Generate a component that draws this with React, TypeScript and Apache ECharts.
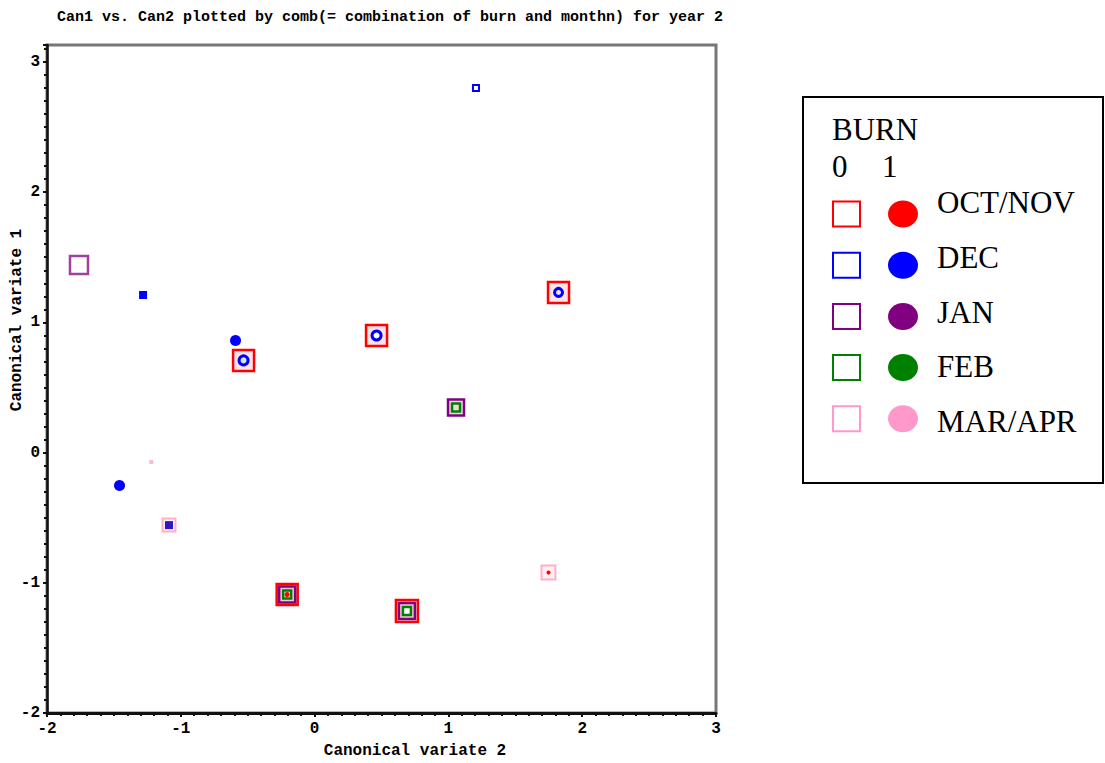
import React, { useEffect, useRef } from "react";
import * as echarts from "echarts";

// ---- texts ----
const titleText = "Can1 vs. Can2 plotted by comb(= combination of burn and monthn) for year 2";
const xTitle = "Canonical variate 2";
const yTitle = "Canonical variate 1";
const legendTitle = "BURN";
const burnLevels = ["0", "1"];
const months = ["OCT/NOV", "DEC", "JAN", "FEB", "MAR/APR"];
const monthColors = ["#FF0000", "#0000FF", "#800080", "#008000", "#FF99CC"];

// ---- axis ranges ----
const xRange = [-2, 3];
const yRange = [-2, 3.13];

// ---- data: [Can2, Can1] ----
const octNov0 = [[-0.531, 0.708], [0.463, 0.899], [1.823, 1.23], [-0.205, -1.09], [0.69, -1.216]];
const jan0 = [[-1.761, 1.441], [1.057, 0.346], [-0.205, -1.09], [0.69, -1.216]];
const marApr0 = [[-1.088, -0.557], [1.748, -0.921], [-1.221, -0.072]];
const feb0 = [[1.057, 0.346], [-0.205, -1.09], [0.69, -1.216]];
const dec0 = [[1.206, 2.8], [-1.282, 1.21], [-1.088, -0.557]];
const dec1 = [[-0.591, 0.861], [-1.458, -0.253], [-0.531, 0.708], [0.463, 0.899], [1.823, 1.23]];
const octNov1 = [[-0.205, -1.09], [1.748, -0.921]];

// ---- marker styling (kept apart from data) ----
const octNov0Sizes = [21, 21, 21, 21, 22];
const jan0Sizes = [18, 16, 16, 16];
const jan0Fills = ["#FFFFFF", "#F0D8E0", "#F2C8D8", "#F2C8D8"];
const marApr0Sizes = [13, 14, 4];
const feb0Sizes = [8, 8, 8];
const feb0Fills = ["#EED8D8", "#E8E0E0", "#FFFFFF"];
const dec0Sizes = [6, 8, 8];
const dec0Fills = ["#FFFFFF", "#0000FF", "#3018C0"];
const dec1Sizes = [11, 11, 9, 9, 8];
const dec1Fills = ["#0000FF", "#0000FF", "#D8E8D0", "#FFFFFF", "#F0E0F0"];
const octNov1Sizes = [5, 4];

function build(data: number[][], sizes: number[], style: (i: number) => any) {
  return data.map((d, i) => ({ value: d, symbolSize: sizes[i], itemStyle: { opacity: 1, ...style(i) } }));
}

const MONO = '"Liberation Mono", "DejaVu Sans Mono", monospace';
const SERIF = '"Liberation Serif", "Times New Roman", serif';

export default function App() {
  const ref = useRef<HTMLDivElement>(null);
  useEffect(() => {
    if (!ref.current) return;
    const chart = echarts.init(ref.current, undefined, { renderer: "svg" });

    const legendEls: any[] = [];
    legendEls.push({
      type: "rect",
      shape: { x: 803, y: 97, width: 300, height: 386 },
      style: { fill: "#fff", stroke: "#000", lineWidth: 2 },
      z: 1,
    });
    legendEls.push({
      type: "text", x: 832, y: 129,
      style: { text: legendTitle, font: `31px ${SERIF}`, fill: "#000", textVerticalAlign: "middle" },
      z: 2,
    });
    burnLevels.forEach((b, i) => {
      legendEls.push({
        type: "text", x: 832 + i * 50, y: 166,
        style: { text: b, font: `31px ${SERIF}`, fill: "#000", textVerticalAlign: "middle" },
        z: 2,
      });
    });
    months.forEach((m, i) => {
      const cy = 214 + i * 51.2;
      legendEls.push({
        type: "rect",
        shape: { x: 833, y: cy - 12.5, width: 27, height: 25 },
        style: { fill: "#fff", stroke: monthColors[i], lineWidth: 2 },
        z: 2,
      });
      legendEls.push({
        type: "ellipse",
        shape: { cx: 903, cy, rx: 15, ry: 13.5 },
        style: { fill: monthColors[i] },
        z: 2,
      });
      legendEls.push({
        type: "text", x: 937, y: 202.5 + i * 54.8,
        style: { text: m, font: `31px ${SERIF}`, fill: "#000", textVerticalAlign: "middle" },
        z: 2,
      });
    });

    const option: any = {
      animation: false,
      backgroundColor: "#fff",
      grid: {
        left: 47, right: 389, top: 45, bottom: 50,
        show: true, borderColor: "#777", borderWidth: 3, backgroundColor: "transparent",
      },
      xAxis: {
        type: "value", min: xRange[0], max: xRange[1], interval: 1,
        axisLine: { show: true, onZero: false, lineStyle: { color: "#111", width: 3 } },
        axisTick: { show: true, length: 4, lineStyle: { color: "#111", width: 2 } },
        minorTick: { show: true, splitNumber: 10, length: 3, lineStyle: { color: "#111", width: 2 } },
        splitLine: { show: false },
        axisLabel: { margin: 8, color: "#000", fontFamily: MONO, fontWeight: "bold", fontSize: 16 },
      },
      yAxis: {
        type: "value", min: yRange[0], max: yRange[1], interval: 1,
        axisLine: { show: true, onZero: false, lineStyle: { color: "#111", width: 2.5 } },
        axisTick: { show: true, length: 4, lineStyle: { color: "#111", width: 2 } },
        minorTick: { show: true, splitNumber: 10, length: 3, lineStyle: { color: "#111", width: 2 } },
        splitLine: { show: false },
        axisLabel: {
          margin: 7, color: "#000", fontFamily: MONO, fontWeight: "bold", fontSize: 16,
          formatter: (v: number) => (Math.abs(v - Math.round(v)) < 1e-6 ? String(Math.round(v)) : ""),
        },
      },
      graphic: [
        {
          type: "text", x: 57, y: 17,
          style: { text: titleText, font: `bold 15px ${MONO}`, fill: "#000", textVerticalAlign: "middle" },
        },
        {
          type: "text", x: 415, y: 751,
          style: { text: xTitle, font: `bold 16px ${MONO}`, fill: "#000", textAlign: "center", textVerticalAlign: "middle" },
        },
        {
          type: "text", x: 17, y: 320, rotation: Math.PI / 2,
          style: { text: yTitle, font: `bold 16px ${MONO}`, fill: "#000", textAlign: "center", textVerticalAlign: "middle" },
        },
        ...legendEls,
      ],
      series: [
        {
          name: "OCT/NOV 0", type: "scatter", symbol: "rect",
          data: build(octNov0, octNov0Sizes, () => ({ color: "#FBE3E8", borderColor: monthColors[0], borderWidth: 2.5 })),
        },
        {
          name: "JAN 0", type: "scatter", symbol: "rect",
          data: build(jan0, jan0Sizes, (i) => ({ color: jan0Fills[i], borderColor: i === 0 ? "#A040A0" : monthColors[2], borderWidth: 2.5 })),
        },
        {
          name: "MAR/APR 0", type: "scatter", symbol: "rect",
          data: build(marApr0, marApr0Sizes, (i) => ({ color: i === 2 ? "#FFB8C8" : "#FFF0F4", borderColor: "#FFB0C8", borderWidth: i === 2 ? 0 : 2 })),
        },
        {
          name: "FEB 0", type: "scatter", symbol: "rect",
          data: build(feb0, feb0Sizes, (i) => ({ color: feb0Fills[i], borderColor: monthColors[3], borderWidth: 2.5 })),
        },
        {
          name: "DEC 0", type: "scatter", symbol: "rect",
          data: build(dec0, dec0Sizes, (i) => ({ color: dec0Fills[i], borderColor: i === 2 ? "#3018C0" : monthColors[1], borderWidth: i === 0 ? 2 : 0 })),
        },
        {
          name: "DEC 1", type: "scatter", symbol: "circle",
          data: build(dec1, dec1Sizes, (i) => ({ color: dec1Fills[i], borderColor: monthColors[1], borderWidth: i < 2 ? 0 : 3 })),
        },
        {
          name: "OCT/NOV 1", type: "scatter", symbol: "circle",
          data: build(octNov1, octNov1Sizes, () => ({ color: monthColors[0] })),
        },
      ],
    };
    chart.setOption(option);
    return () => chart.dispose();
  }, []);
  return <div ref={ref} style={{ position: "absolute", left: 0, top: 0, width: 1105, height: 763 }} />;
}
